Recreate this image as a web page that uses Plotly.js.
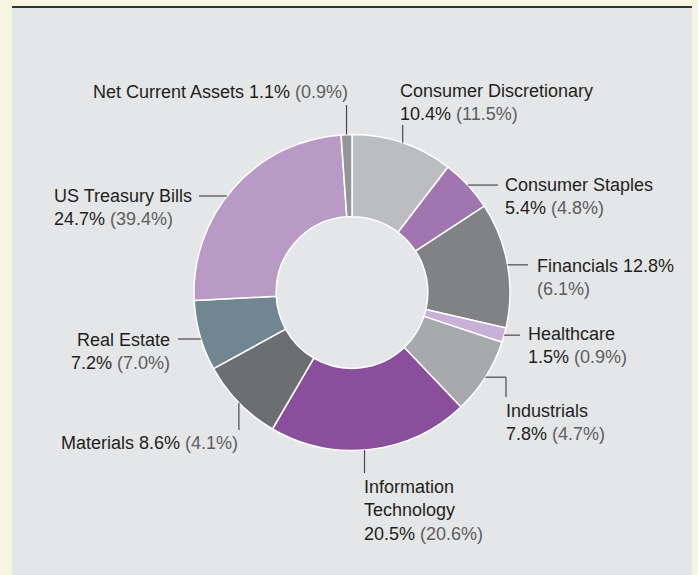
<!DOCTYPE html>
<html>
<head>
<meta charset="utf-8">
<script src="https://cdn.plot.ly/plotly-3.0.1.min.js"></script>
<style>
  html, body { margin: 0; padding: 0; background: #f8f4e2; }
  #chart { width: 698px; height: 575px; }
</style>
</head>
<body>
<div id="chart"></div>
<script>
// ---- Data ----
const sectors = [
  "Consumer Discretionary", "Consumer Staples", "Financials", "Healthcare",
  "Industrials", "Information Technology", "Materials", "Real Estate",
  "US Treasury Bills", "Net Current Assets"
];
const weights = [10.4, 5.4, 12.8, 1.5, 7.8, 20.5, 8.6, 7.2, 24.7, 1.1];
const priorWeights = [11.5, 4.8, 6.1, 0.9, 4.7, 20.6, 4.1, 7.0, 39.4, 0.9];
const sliceColors = [
  "#bcbdc0", "#a175b0", "#808285", "#c9b0d6", "#a7a9ac",
  "#8a4f9c", "#6d6e71", "#708791", "#b99ac7", "#939598"
];
// how each label's name is broken into lines (layout only)
const labelLines = [
  ["Consumer Discretionary"], ["Consumer Staples"], ["Financials"], ["Healthcare"],
  ["Industrials"], ["Information", "Technology"], ["Materials"], ["Real Estate"],
  ["US Treasury Bills"], ["Net Current Assets"]
];

// ---- Layout constants ----
const W = 698, H = 575;
const cx = 352, cy = 292.5, R = 158;
const FS = 18;
const gray = "#5d5e60";
// label placement: x,y in px; anchor; connector spec
// conn.h: horizontal connector ending at x; conn.v: vertical connector ending at y
// conn.atY / conn.atX: optional fixed row/column where the connector meets the ring
const place = [
  {x: 398, y: 102,   a: "left",  conn: {v: 125}, same: false},
  {x: 503, y: 196.5, a: "left",  conn: {h: 498}, same: false},
  {x: 535, y: 277.5, a: "left",  conn: {h: 528}, same: true, splitPrior: true},
  {x: 526, y: 346,   a: "left",  conn: {h: 520}, same: false},
  {x: 504, y: 422,   a: "left",  conn: {h: 506, v: 397}, same: false},
  {x: 362, y: 510.5, a: "left",  conn: {v: 473, atX: 364.5}, same: false},
  {x: 59,  y: 442.5, a: "left",  conn: {v: 430}, same: true},
  {x: 172, y: 351,   a: "right", conn: {h: 178, atY: 339}, same: false},
  {x: 52,  y: 207,   a: "left",  conn: {h: 199, atY: 196}, same: false},
  {x: 350, y: 92,    a: "right", conn: {v: 105}, same: true}
];

const px = x => x / W;
const py = y => 1 - y / H;

const total = weights.reduce((s, v) => s + v, 0);
let cum = 0;
const annotations = [];
const shapes = [
  {type: "rect", xref: "paper", yref: "paper", x0: px(12), x1: px(692), y0: 0, y1: py(6),
   fillcolor: "#e5e6e8", line: {width: 0}, layer: "below"},
  {type: "line", xref: "paper", yref: "paper", x0: px(12), x1: px(692), y0: py(7), y1: py(7),
   line: {color: "#333333", width: 2}, layer: "below"}
];

sectors.forEach((name, i) => {
  const mid = (cum + weights[i] / 2) / total * 2 * Math.PI;
  cum += weights[i];
  let rx = cx + R * Math.sin(mid);
  let ry = cy - R * Math.cos(mid);
  const p = place[i];
  // optional: meet the ring at a given row / column (on the slice's side)
  if (p.conn.atY !== undefined) {
    ry = p.conn.atY;
    rx = cx + Math.sign(rx - cx) * Math.sqrt(R * R - (ry - cy) * (ry - cy));
  }
  if (p.conn.atX !== undefined) {
    rx = p.conn.atX;
    ry = cy + Math.sign(ry - cy) * Math.sqrt(R * R - (rx - cx) * (rx - cx));
  }
  const pct = weights[i].toFixed(1) + "%";
  const prior = "<span style='color:" + gray + "'>(" + priorWeights[i].toFixed(1) + "%)</span>";
  let text;
  if (p.same && p.splitPrior) {
    text = labelLines[i].join("<br>") + " " + pct + "<br>" + prior;
  } else if (p.same) {
    text = labelLines[i].join("<br>") + " " + pct + " " + prior;
  } else {
    text = labelLines[i].join("<br>") + "<br>" + pct + " " + prior;
  }
  annotations.push({
    xref: "paper", yref: "paper", x: px(p.x), y: py(p.y),
    xanchor: p.a, yanchor: "middle", align: p.a, showarrow: false,
    text: text, font: {family: "Liberation Sans, Arial, sans-serif", size: FS, color: "#231f20"}
  });
  // connector lines
  const lc = {color: "#4a4a4c", width: 1.2};
  if (p.conn.h !== undefined && p.conn.v !== undefined) {
    shapes.push({type: "line", xref: "paper", yref: "paper", x0: px(rx), y0: py(ry), x1: px(p.conn.h), y1: py(ry), line: lc});
    shapes.push({type: "line", xref: "paper", yref: "paper", x0: px(p.conn.h), y0: py(ry), x1: px(p.conn.h), y1: py(p.conn.v), line: lc});
  } else if (p.conn.h !== undefined) {
    shapes.push({type: "line", xref: "paper", yref: "paper", x0: px(rx), y0: py(ry), x1: px(p.conn.h), y1: py(ry), line: lc});
  } else {
    shapes.push({type: "line", xref: "paper", yref: "paper", x0: px(rx), y0: py(ry), x1: px(rx), y1: py(p.conn.v), line: lc});
  }
});

const trace = {
  type: "pie",
  labels: sectors,
  values: weights,
  sort: false,
  direction: "clockwise",
  rotation: 0,
  hole: 0.48,
  textinfo: "none",
  hoverinfo: "label+percent",
  marker: {colors: sliceColors, line: {color: "#ffffff", width: 1.5}},
  domain: {x: [px(cx - R), px(cx + R)], y: [py(cy + R), py(cy - R)]},
  showlegend: false
};

const layout = {
  width: W, height: H,
  margin: {l: 0, r: 0, t: 0, b: 0},
  paper_bgcolor: "#f8f4e2",
  plot_bgcolor: "#f8f4e2",
  showlegend: false,
  shapes: shapes,
  annotations: annotations
};

Plotly.newPlot("chart", [trace], layout, {displayModeBar: false, staticPlot: true});
</script>
</body>
</html>
